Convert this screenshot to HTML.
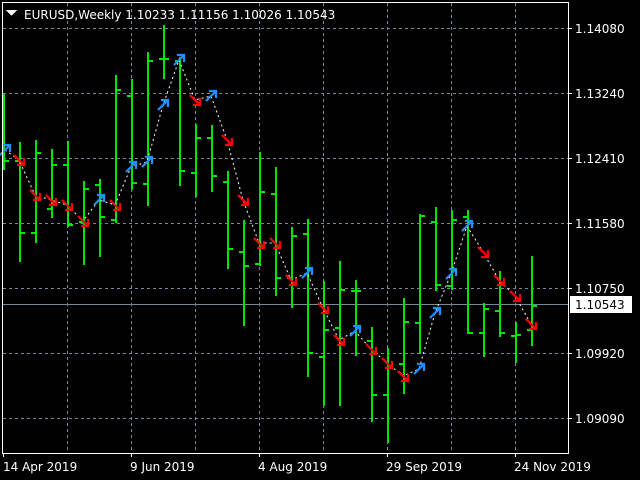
<!DOCTYPE html>
<html><head><meta charset="utf-8"><style>
html,body{margin:0;padding:0;background:#000;}
svg{display:block;}
text{font-family:"DejaVu Sans","Liberation Sans",sans-serif;font-size:12px;fill:#fff;}
</style></head><body>
<svg id="c" width="640" height="480" viewBox="0 0 640 480" xmlns="http://www.w3.org/2000/svg" shape-rendering="crispEdges">
<rect width="640" height="480" fill="#000"/>
<g id="grid" stroke="#778899" stroke-width="1" stroke-dasharray="3,3"></g>
<line x1="2" y1="304.5" x2="568" y2="304.5" stroke="#778899"/>
<g id="bars" stroke="#00e600" stroke-width="2"></g>
<polyline id="zz" fill="none" stroke="#fff" stroke-width="1" stroke-dasharray="2,3" shape-rendering="auto"/>
<g id="arr" stroke-width="2.2" fill="none" shape-rendering="auto"></g>
<rect x="2.5" y="2.5" width="566" height="451" fill="none" stroke="#fff"/>
<g id="ticks" stroke="#fff"></g>
<path d="M6 10 L17 10 L11.5 16 Z" fill="#fff"/>
<text x="24" y="19" font-size="13">EURUSD,Weekly  1.10233 1.11156 1.10026 1.10543</text>
<text x="575" y="33">1.14080</text>
<text x="575" y="98">1.13240</text>
<text x="575" y="163">1.12410</text>
<text x="575" y="228">1.11580</text>
<text x="575" y="293">1.10750</text>
<rect x="570" y="296" width="62" height="17" fill="#fff"/>
<text x="575" y="309" style="fill:#000">1.10543</text>
<text x="575" y="358">1.09920</text>
<text x="575" y="423">1.09090</text>
<text x="3" y="471">14 Apr 2019</text>
<text x="130" y="471">9 Jun 2019</text>
<text x="258" y="471">4 Aug 2019</text>
<text x="386" y="471">29 Sep 2019</text>
<text x="514" y="471">24 Nov 2019</text>
</svg>
<script>
var NS="http://www.w3.org/2000/svg";
function el(p,t,a){var e=document.createElementNS(NS,t);for(var k in a)e.setAttribute(k,a[k]);document.getElementById(p).appendChild(e);return e;}
[28,93,158,223,288,353,418].forEach(function(y){el("grid","line",{x1:3,y1:y+.5,x2:568,y2:y+.5});el("ticks","line",{x1:568,y1:y+.5,x2:572,y2:y+.5});});
[67,131,195,259,323,387,451,515].forEach(function(x){el("grid","line",{x1:x+.5,y1:3,x2:x+.5,y2:453});});
[3,131,259,387,515].forEach(function(x){el("ticks","line",{x1:x+.5,y1:453,x2:x+.5,y2:457});});
var B=[[3,94,170,160,160],[19,142,262,160,232],[35,140,243,232,152],[51,149,218,208,164],[67,141,227,164,224],[83,181,265,221,188],[99,179,257,184,216],[115,75,223,219,89],[131,79,190,95,182],[147,52,206,183,60],[163,25,79,58,58],[179,57,186,60,170],[195,124,197,172,137],[211,125,192,137,175],[227,171,269,181,248],[243,220,326,251,265],[259,152,266,263,191],[275,167,296,193,277],[291,227,308,277,235],[307,219,377,233,352],[323,281,406,356,329],[339,261,406,327,289],[355,280,356,290,290],[371,327,422,340,394],[387,348,443,394,365],[403,298,394,363,321],[419,214,354,322,215],[435,207,291,221,284],[451,210,290,285,219],[467,210,334,216,332],[483,303,357,332,308],[499,271,337,310,332],[515,322,363,335,334],[531,256,346,329,305]];
B.forEach(function(b){var x=b[0]+1;el("bars","line",{x1:x,y1:b[1],x2:x,y2:b[2]});if(b[0]>5)el("bars","line",{x1:x-5,y1:b[3]+1,x2:x,y2:b[3]+1});el("bars","line",{x1:x,y1:b[4]+1,x2:x+5,y2:b[4]+1});});
var A=[[5,150,1],[19,160,0],[35,195,0],[51,200,0],[67,205,0],[83,221,0],[99,200,1],[115,205,0],[131,167,1],[147,162,1],[163,105,1],[179,60,1],[195,100,0],[211,96,1],[227,140,0],[243,200,0],[259,243,0],[275,243,0],[291,280,0],[307,273,1],[323,308,0],[339,340,0],[355,331,1],[371,349,0],[387,363,0],[403,376,0],[419,369,1],[435,313,1],[451,274,1],[467,226,1],[483,252,0],[499,280,0],[515,296,0],[531,324,0]];
document.getElementById("zz").setAttribute("points",A.map(function(a){return a[0]+","+a[1];}).join(" "));
A.forEach(function(a){var x=a[0],y=a[1];
if(a[2]){el("arr","path",{d:"M"+(x-5)+" "+(y+5)+" L"+(x+5)+" "+(y-5)+" M"+(x-2)+" "+(y-5)+" L"+(x+5)+" "+(y-5)+" L"+(x+5)+" "+(y+2),stroke:"#1e90ff"});}
else{el("arr","path",{d:"M"+(x-5)+" "+(y-5)+" L"+(x+5)+" "+(y+5)+" M"+(x-2)+" "+(y+5)+" L"+(x+5)+" "+(y+5)+" L"+(x+5)+" "+(y-2),stroke:"#ff0000"});}});
</script>
</body></html>
